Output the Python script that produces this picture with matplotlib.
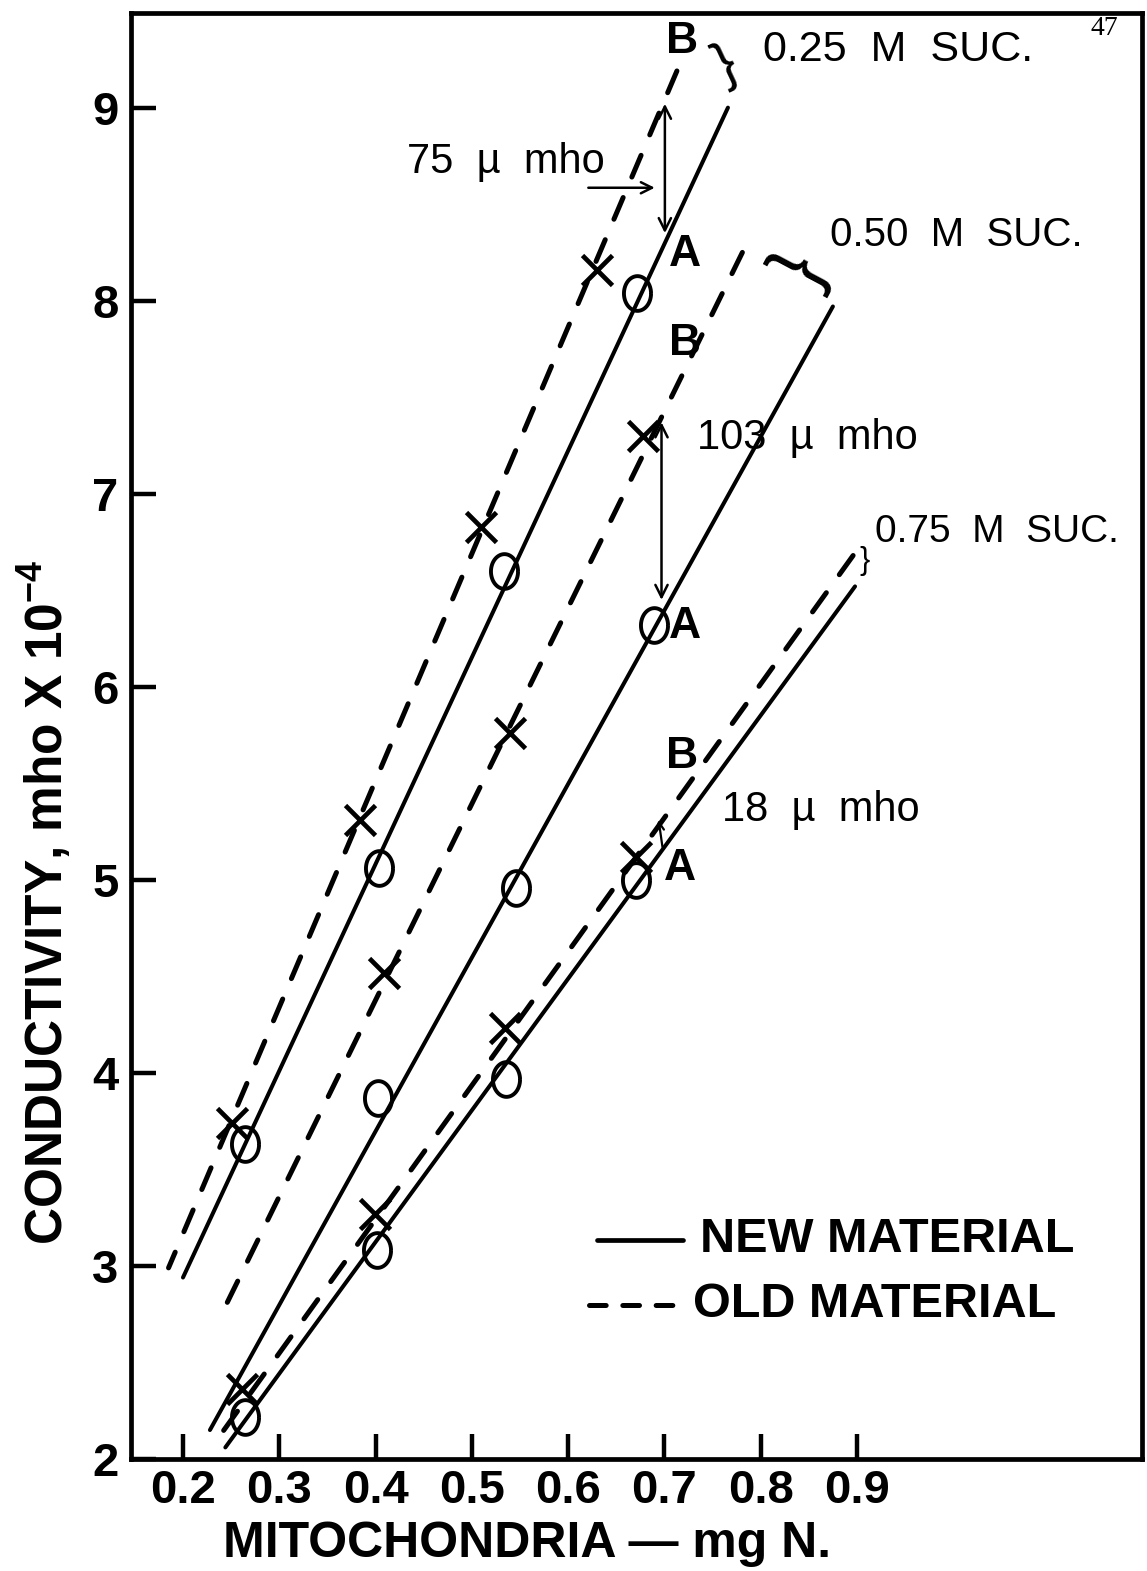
import matplotlib
matplotlib.use("Agg")
import matplotlib.pyplot as plt
import numpy as np
from matplotlib.path import Path

# ---------------- data ----------------
# 0.25 M sucrose
s25_new_x = [0.264, 0.404, 0.533, 0.672]
s25_new_y = [3.63, 5.06, 6.60, 8.04]
s25_old_x = [0.251, 0.384, 0.510, 0.630]
s25_old_y = [3.74, 5.31, 6.83, 8.16]
# 0.50 M sucrose
s50_new_x = [0.403, 0.546, 0.689]
s50_new_y = [3.87, 4.96, 6.32]
s50_old_x = [0.409, 0.540, 0.678]
s50_old_y = [4.52, 5.76, 7.30]
# 0.75 M sucrose
s75_new_x = [0.264, 0.401, 0.536, 0.671]
s75_new_y = [2.22, 3.08, 3.97, 5.00]
s75_old_x = [0.261, 0.399, 0.534, 0.671]
s75_old_y = [2.36, 3.27, 4.23, 5.12]

# fitted lines (end points)
fit25_new_x = [0.200, 0.766]
fit25_new_y = [2.94, 9.00]
fit25_old_x = [0.185, 0.713]
fit25_old_y = [2.99, 9.19]
fit50_new_x = [0.228, 0.875]
fit50_new_y = [2.15, 7.97]
fit50_old_x = [0.240, 0.781]
fit50_old_y = [2.75, 8.25]
fit75_new_x = [0.244, 0.898]
fit75_new_y = [2.06, 6.52]
fit75_old_x = [0.231, 0.896]
fit75_old_y = [2.07, 6.68]

x_ticks = [0.2, 0.3, 0.4, 0.5, 0.6, 0.7, 0.8, 0.9]
x_tick_labels = ["0.2", "0.3", "0.4", "0.5", "0.6", "0.7", "0.8", "0.9"]
y_ticks = [2, 3, 4, 5, 6, 7, 8, 9]
y_tick_labels = ["2", "3", "4", "5", "6", "7", "8", "9"]

# ---------------- figure ----------------
plt.rcParams["font.family"] = ["Liberation Sans", "DejaVu Sans"]
plt.rcParams["lines.scale_dashes"] = False
plt.rcParams["mathtext.fontset"] = "custom"
plt.rcParams["mathtext.rm"] = "Liberation Sans:bold"
plt.rcParams["mathtext.bf"] = "Liberation Sans:bold"
plt.rcParams["mathtext.default"] = "rm"

fig = plt.figure(figsize=(11.47, 15.71), dpi=100)
ax = fig.add_axes([0.1142, 0.0713, 0.8814, 0.9204])
ax.set_xlim(0.146, 1.196)
ax.set_ylim(2.0, 9.49)

for s in ax.spines.values():
    s.set_linewidth(3.4)

solid = dict(color="k", lw=2.9, ls="-", solid_capstyle="round", zorder=2)
dashed = dict(color="k", lw=3.6, ls=(0, (17, 16)), dash_capstyle="round", zorder=2)

ax.plot(fit25_new_x, fit25_new_y, **solid)
ax.plot(fit50_new_x, fit50_new_y, **solid)
ax.plot(fit75_new_x, fit75_new_y, **solid)
ax.plot(fit25_old_x[::-1], fit25_old_y[::-1], **dashed)
ax.plot(fit50_old_x[::-1], fit50_old_y[::-1], **dashed)
ax.plot(fit75_old_x[::-1], fit75_old_y[::-1], **dashed)

t = np.linspace(0, 2 * np.pi, 64)
ell = Path(np.column_stack([0.78 * np.cos(t), np.sin(t)]))
omark = dict(ls="none", marker=ell, ms=25, mfc="none", mec="k", mew=2.8, zorder=4)
xmark = dict(ls="none", marker="x", ms=21, mec="k", mew=3.4, zorder=4)

for xs, ys in [(s25_new_x, s25_new_y), (s50_new_x, s50_new_y), (s75_new_x, s75_new_y)]:
    ax.plot(xs, ys, **omark)
for xs, ys in [(s25_old_x, s25_old_y), (s50_old_x, s50_old_y), (s75_old_x, s75_old_y)]:
    ax.plot(xs, ys, **xmark)

ax.set_xticks(x_ticks)
ax.set_xticklabels(x_tick_labels)
ax.set_yticks(y_ticks)
ax.set_yticklabels(y_tick_labels)
ax.tick_params(direction="in", length=18, width=3.2, labelsize=34)
ax.tick_params(axis="x", pad=7)
ax.tick_params(axis="y", pad=9)
for lab in ax.get_xticklabels() + ax.get_yticklabels():
    lab.set_fontweight("bold")

fig.text(45 / 1147, 0.426, "CONDUCTIVITY, mho X 10$^{-4}$", rotation=90,
         ha="center", va="center", fontsize=37, fontweight="bold")
fig.text(527 / 1147, 1 - 1544 / 1571, "MITOCHONDRIA \u2014 mg N.",
         ha="center", va="center", fontsize=36, fontweight="bold")

# letters A/B
big = dict(fontsize=32, fontweight="bold", ha="center", va="center")
ax.text(0.718, 9.34, "B", **big)
ax.text(0.721, 8.24, "A", **big)
ax.text(0.721, 7.78, "B", **big)
ax.text(0.721, 6.31, "A", **big)
ax.text(0.718, 5.64, "B", **big)
ax.text(0.716, 5.06, "A", **big)

ann = dict(ha="left", va="center", fontweight="medium")
ax.text(0.802, 9.30, "0.25  M  SUC.", fontsize=31, **ann)
ax.text(0.872, 8.34, "0.50  M  SUC.", fontsize=29, **ann)
ax.text(0.919, 6.80, "0.75  M  SUC.", fontsize=28, **ann)
ax.text(0.433, 8.72, "75  \u00b5  mho", fontsize=30, **ann)
ax.text(0.734, 7.29, "103  \u00b5  mho", fontsize=30, **ann)
ax.text(0.760, 5.36, "18  \u00b5  mho", fontsize=30, **ann)

# braces
ax.text(0.763, 9.22, "}", fontsize=40, rotation=25, ha="center", va="center")
ax.text(0.841, 8.16, "}", fontsize=56, rotation=62, ha="center", va="center")
ax.text(0.908, 6.65, "}", fontsize=22, rotation=0, ha="center", va="center")

# difference arrows
arw = dict(arrowstyle="<->", lw=1.8, color="k", mutation_scale=22, shrinkA=0, shrinkB=0)
ax.annotate("", xy=(0.7005, 9.02), xytext=(0.7005, 8.35), arrowprops=arw)
ax.annotate("", xy=(0.697, 7.37), xytext=(0.697, 6.45), arrowprops=arw)
ax.annotate("", xy=(0.694, 5.31), xytext=(0.698, 5.17),
            arrowprops=dict(arrowstyle="->", lw=1.6, color="k", mutation_scale=14, shrinkA=0, shrinkB=0))
ax.annotate("", xy=(0.690, 8.585), xytext=(0.621, 8.585),
            arrowprops=dict(arrowstyle="->", lw=1.8, color="k", mutation_scale=20, shrinkA=0, shrinkB=0))

# legend (drawn in axes coordinates)
ax.plot([0.461, 0.546], [0.1515, 0.1515], transform=ax.transAxes, color="k", lw=3.4,
        solid_capstyle="round")
ax.plot([0.453, 0.540], [0.1065, 0.1065], transform=ax.transAxes, color="k", lw=3.6,
        ls=(0, (12, 12)), dash_capstyle="round")
ax.text(0.563, 0.1515, "NEW MATERIAL", transform=ax.transAxes, fontsize=35,
        fontweight="bold", ha="left", va="center")
ax.text(0.556, 0.1065, "OLD MATERIAL", transform=ax.transAxes, fontsize=35,
        fontweight="bold", ha="left", va="center")

fig.text(0.963, 0.982, "47", family="Liberation Serif", fontsize=20, ha="center", va="center")

fig.savefig("out.png", dpi=100, facecolor="white")
